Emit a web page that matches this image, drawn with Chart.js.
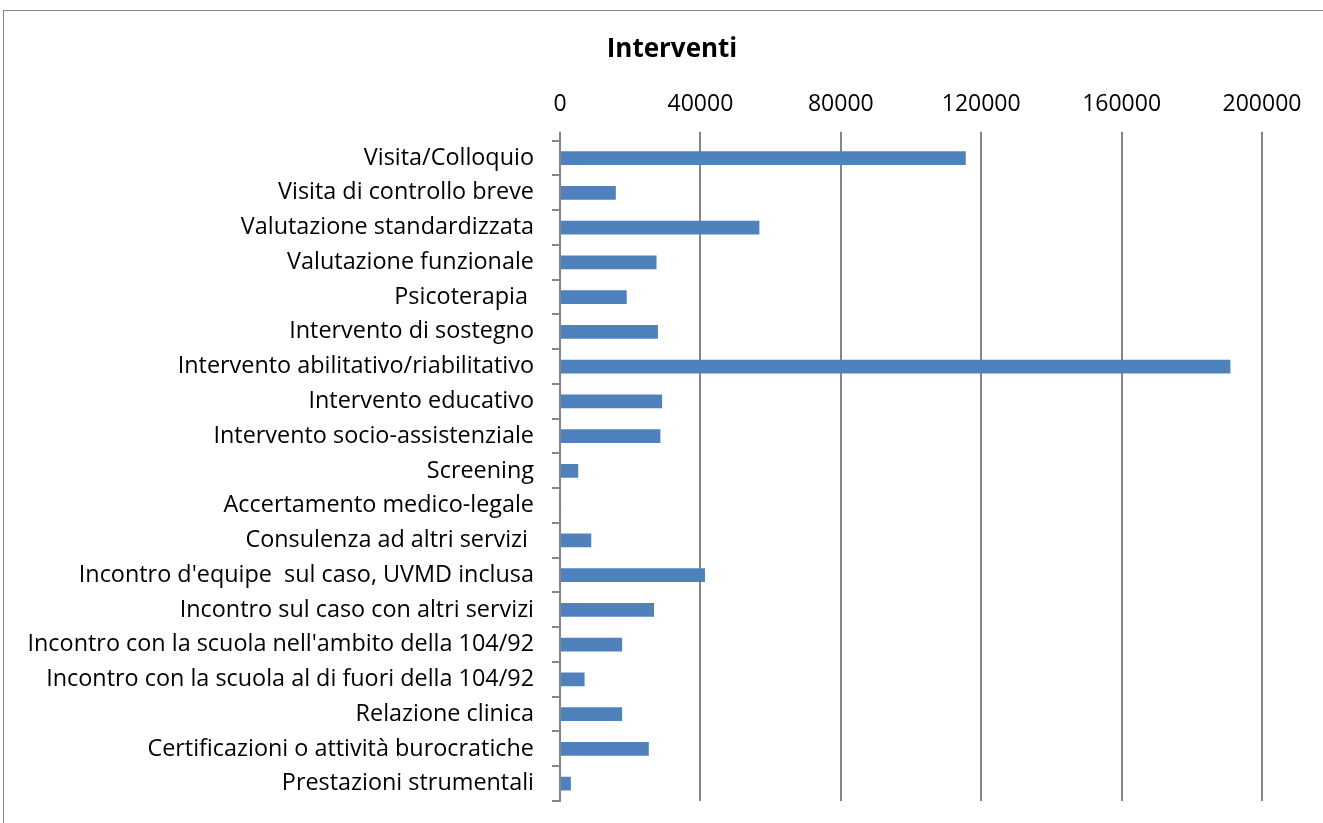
<!DOCTYPE html>
<html>
<head>
<meta charset="utf-8">
<script src="https://cdn.jsdelivr.net/npm/chart.js@4"></script>
<style>
  body { margin: 0; background: #fff; overflow: hidden; }
  #frame { position: absolute; left: 3px; top: 10px; width: 1340px; height: 840px; border: 1px solid #868686; }
  #c { position: absolute; left: 0; top: 0; }
</style>
</head>
<body>
<div id="frame"></div>
<canvas id="c" width="1323" height="823"></canvas>
<script>
var categories = [
    'Visita/Colloquio',
    'Visita di controllo breve',
    'Valutazione standardizzata',
    'Valutazione funzionale',
    'Psicoterapia ',
    'Intervento di sostegno',
    'Intervento abilitativo/riabilitativo',
    'Intervento educativo',
    'Intervento socio-assistenziale',
    'Screening',
    'Accertamento medico-legale',
    'Consulenza ad altri servizi ',
    "Incontro d'equipe  sul caso, UVMD inclusa",
    'Incontro sul caso con altri servizi',
    "Incontro con la scuola nell'ambito della 104/92",
    'Incontro con la scuola al di fuori della 104/92',
    'Relazione clinica',
    'Certificazioni o attività burocratiche',
    'Prestazioni strumentali'
];
var interventi = [115600, 15900, 56800, 27500, 19000, 27900, 191000, 29100, 28600,
    5200, 300, 8900, 41300, 26800, 17700, 7000, 17700, 25300, 3100];
var xMin = 0, xMax = 200000, xStep = 40000;

var gridGray = '#868686';
var font = '"Open Sans", sans-serif';

// centre the title over the whole frame rather than the padded box
var titleShift = {
    id: 'titleShift',
    afterLayout: function (chart) {
        if (chart.titleBlock) chart.titleBlock.left = 82;
    }
};

var ctx = document.getElementById('c').getContext('2d');
var chart = new Chart(ctx, {
    type: 'bar',
    data: {
        labels: categories,
        datasets: [{
            label: 'Interventi',
            data: interventi,
            backgroundColor: '#4F81BD',
            borderWidth: 0,
            barPercentage: 0.8,
            categoryPercentage: 0.5
        }]
    },
    options: {
        indexAxis: 'y',
        responsive: false,
        animation: false,
        layout: { padding: { left: 0, right: 61, top: 0, bottom: 22 } },
        plugins: {
            legend: { display: false },
            tooltip: { enabled: false },
            title: {
                display: true,
                text: 'Interventi',
                color: '#000',
                font: { family: font, size: 26, weight: 'bold' },
                padding: { top: 34, bottom: 0 }
            }
        },
        scales: {
            x: {
                position: 'top',
                min: xMin,
                max: xMax,
                ticks: {
                    stepSize: xStep, color: '#000', padding: 13,
                    font: { family: font, size: 23 },
                    callback: function (v) { return String(v); }
                },
                grid: { color: gridGray, lineWidth: 2, tickLength: 9 },
                border: { display: false },
                afterFit: function (scale) { scale.height = 75.5; }
            },
            y: {
                ticks: { color: '#000', padding: 18, font: { family: font, size: 23.4 } },
                grid: { offset: true, drawOnChartArea: false, color: gridGray, lineWidth: 2, tickLength: 8 },
                border: { display: true, color: gridGray, width: 2 },
                afterFit: function (scale) {
                    scale.width = 560;
                    scale.paddingTop = 0;
                    scale.paddingBottom = 0;
                }
            }
        }
    },
    plugins: [titleShift]
});
</script>
</body>
</html>
